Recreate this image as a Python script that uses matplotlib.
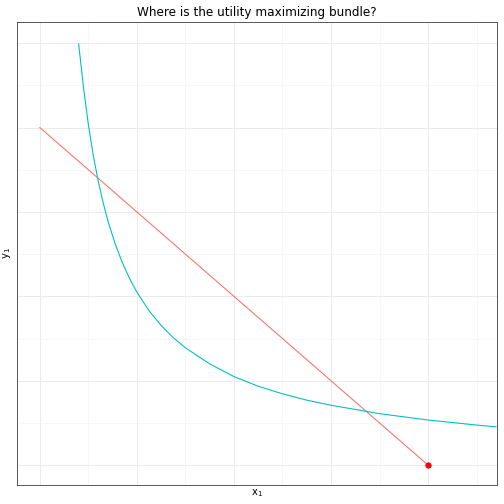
import matplotlib
matplotlib.use("Agg")
import matplotlib.pyplot as plt

# budget line endpoints
budget_x = [0, 8]
budget_y = [8, 0]

# indifference curve, points
curve_x = [0.8, 0.9, 1.0, 1.1, 1.2, 1.3, 1.4, 1.55, 1.7, 1.85, 2.0, 2.25, 2.5, 2.75, 3.0, 3.5, 4.0, 4.5, 5.0, 5.5, 6.0, 7.0, 8.0, 9.0, 9.4]
curve_y = [9.98, 8.95, 8.07, 7.35, 6.75, 6.24, 5.80, 5.25, 4.80, 4.42, 4.10, 3.66, 3.31, 3.02, 2.78, 2.40, 2.10, 1.87, 1.69, 1.54, 1.42, 1.22, 1.07, 0.95, 0.91]

# endowment point
pt_x = [8]
pt_y = [0]

fig = plt.figure(figsize=(7, 7), dpi=72)
ax = fig.add_axes([17/504, 19/504, 480/504, 463/504])

ax.plot(budget_x, budget_y, color="#F8766D", lw=1.1)
ax.plot(curve_x, curve_y, color="#00BFC4", lw=1.1)
ax.scatter(pt_x, pt_y, color="red", s=28, zorder=3)

ax.set_xlim(-0.47, 9.42)
ax.set_ylim(-0.47, 10.5)
ax.set_xticks([0, 2, 4, 6, 8])
ax.set_xticks([1, 3, 5, 7, 9], minor=True)
ax.set_yticks([0, 2, 4, 6, 8, 10])
ax.set_yticks([1, 3, 5, 7, 9], minor=True)
ax.tick_params(which="both", length=0, labelbottom=False, labelleft=False)
ax.grid(which="major", color="#EBEBEB", lw=1.0)
ax.grid(which="minor", color="#F2F2F2", lw=0.6)
ax.set_axisbelow(True)
for s in ax.spines.values():
    s.set_color("#333333")
    s.set_linewidth(0.8)

ax.set_xlabel("x$_1$", fontsize=10, labelpad=2)
ax.set_ylabel("y$_1$", fontsize=10, labelpad=4)
ax.set_title("Where is the utility maximizing bundle?", fontsize=12, pad=6)

fig.savefig("out.png", dpi=72)
